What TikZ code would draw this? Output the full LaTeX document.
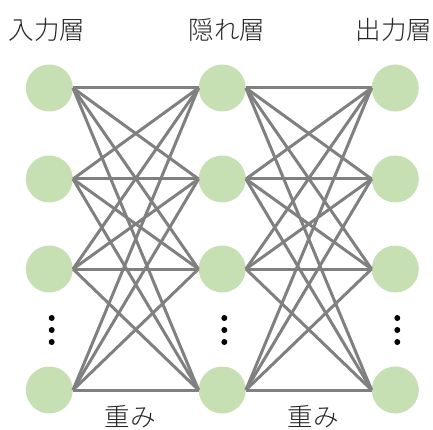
\documentclass[tikz,border=0pt]{standalone}
\usepackage{fontspec}
\newfontfamily\jp{Noto Sans CJK JP Light}
\begin{document}
\begin{tikzpicture}[x=1pt,y=-1pt,
  neuron/.style={circle,fill=neuronc,draw=none,minimum size=47pt,inner sep=0pt},
  wire/.style={draw=wirec,line width=3pt},
  lbl/.style={font=\jp\fontsize{25.5}{27}\selectfont,text=black!85,inner sep=0pt},
  dot/.style={circle,fill=black,inner sep=0pt,minimum size=6pt}]
\definecolor{neuronc}{RGB}{198,224,180}
\definecolor{wirec}{RGB}{128,128,128}
\useasboundingbox (0,0) rectangle (433,430);
% nodes
\foreach \c/\x in {a/49.3,b/222.2,c/395.3}{
  \foreach \r/\y in {1/88,2/179,3/269,4/390}{
    \node[neuron] (\c\r) at (\x,\y) {};
  }
}
% wires
\foreach \i in {1,...,4}{
  \foreach \j in {1,...,4}{
    \draw[wire,line cap=butt] (a\i.east) -- (b\j.west);
    \draw[wire,line cap=butt] (b\i.east) -- (c\j.west);
  }
}
% dots
\foreach \c/\x in {da/51.7,db/224.3,dc/397.3}{
  \node[dot] (\c1) at (\x,318) {};
  \node[dot] (\c2) at (\x,330) {};
  \node[dot] (\c3) at (\x,342) {};
}
% labels
\node[lbl] (l1) at (47,30) {入力層};
\node[lbl] (l2) at (227,30) {隠れ層};
\node[lbl] (l3) at (394,30) {出力層};
\node[lbl] (w1) at (130,417) {重み};
\node[lbl] (w2) at (313,417) {重み};
\end{tikzpicture}
\end{document}
